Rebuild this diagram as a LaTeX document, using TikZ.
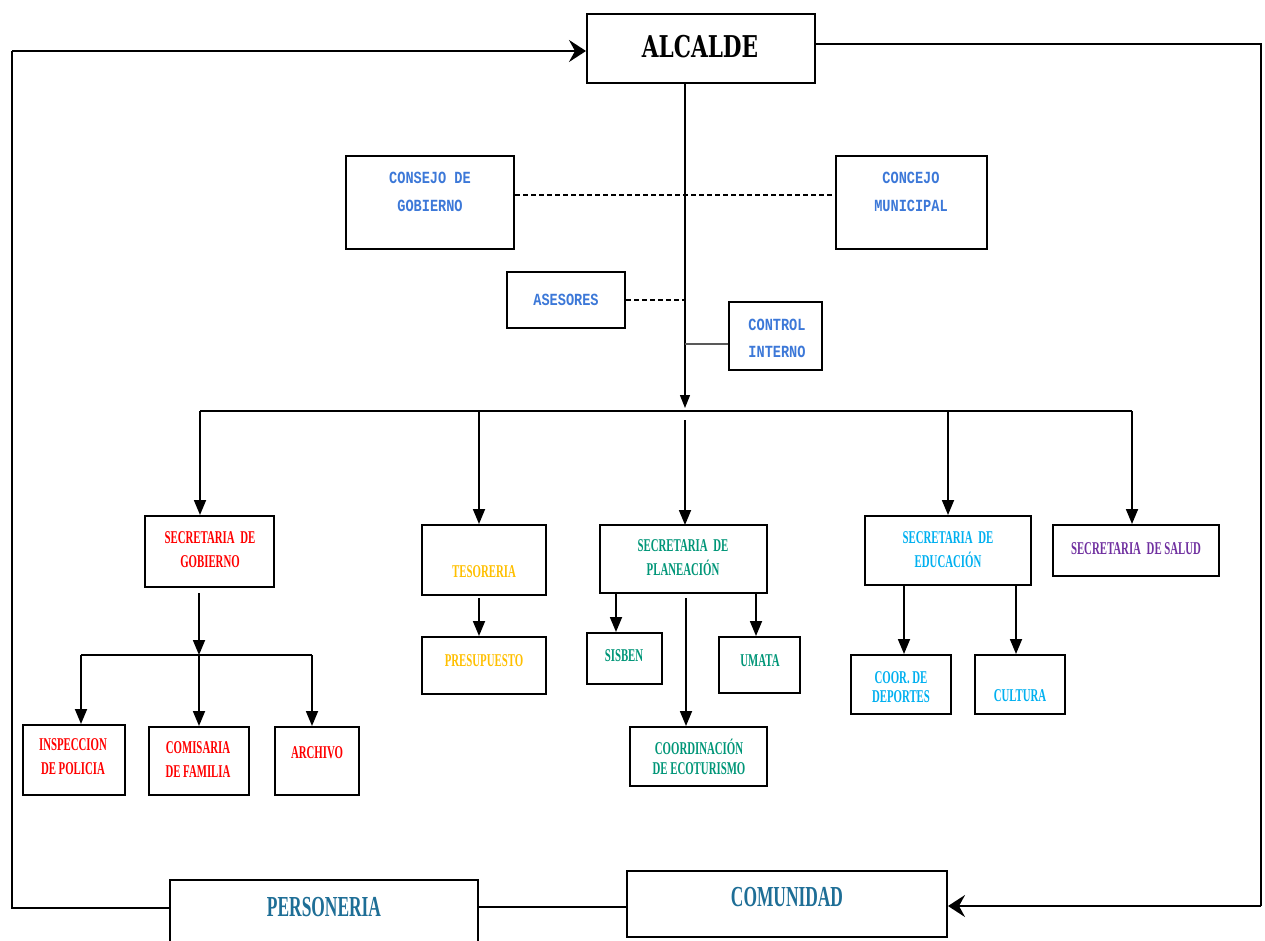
\documentclass[tikz,border=0pt]{standalone}
\usepackage{fontspec}
\setmainfont{Liberation Serif}
\newfontfamily\serc[FakeStretch=0.6]{Liberation Serif}
\newfontfamily\monc[FakeStretch=0.8]{Liberation Mono}
\newfontfamily\alcf[FakeStretch=0.72]{DejaVu Serif}
\usetikzlibrary{arrows.meta}
\definecolor{blueT}{RGB}{60,120,216}
\definecolor{goldT}{RGB}{255,192,0}
\definecolor{tealT}{RGB}{0,150,120}
\definecolor{lblueT}{RGB}{0,176,240}
\definecolor{purpT}{RGB}{112,48,160}
\definecolor{darkT}{RGB}{30,110,150}
\tikzset{
  box/.style={draw, line width=2pt, inner sep=0pt, fill=white},
  arr/.style={line width=1.8pt, -{Triangle[length=15pt,width=12pt]}},
  bigarr/.style={line width=2.2pt, -{Stealth[length=17pt,width=22pt,inset=6pt]}},
  lnk/.style={line width=1.8pt},
  thinl/.style={line width=1.2pt},
  dsh/.style={line width=1.6pt, dash pattern=on 5pt off 3pt},
  lbl/.style={align=center, inner sep=0pt},
  ctext/.style={lbl, font=\monc\bfseries\fontsize{17}{28}\selectfont, text=blueT},
  stext/.style={lbl, font=\serc\bfseries\fontsize{18}{24}\selectfont},
  btext/.style={lbl, font=\serc\bfseries\fontsize{29}{30}\selectfont, text=darkT},
}
\begin{document}
\begin{tikzpicture}[x=1pt,y=-1pt]
\useasboundingbox (0,0) rectangle (1265,940);
% boxes
\node[box, minimum width=228pt, minimum height=69pt] (alc) at (701,48.5) {};
\node[box, minimum width=168pt, minimum height=93pt] (cgob) at (430,202.5) {};
\node[box, minimum width=151pt, minimum height=93pt] (cmun) at (911.5,202.5) {};
\node[box, minimum width=118pt, minimum height=56pt] (ases) at (566,300) {};
\node[box, minimum width=93pt, minimum height=68pt] (cint) at (775.5,336) {};
\node[box, minimum width=129pt, minimum height=71pt] (sgob) at (209.5,551.5) {};
\node[box, minimum width=124pt, minimum height=70pt] (teso) at (484,560) {};
\node[box, minimum width=167pt, minimum height=68pt] (spla) at (683.5,559) {};
\node[box, minimum width=166pt, minimum height=69pt] (sedu) at (948,550.5) {};
\node[box, minimum width=166pt, minimum height=51pt] (ssal) at (1136,550.5) {};
\node[box, minimum width=102pt, minimum height=70pt] (insp) at (74,760) {};
\node[box, minimum width=100pt, minimum height=68pt] (comi) at (199,761) {};
\node[box, minimum width=84pt, minimum height=68pt] (arch) at (317,761) {};
\node[box, minimum width=124pt, minimum height=57pt] (pres) at (484,665.5) {};
\node[box, minimum width=75pt, minimum height=51pt] (sisb) at (624.5,658.5) {};
\node[box, minimum width=81pt, minimum height=56pt] (umat) at (759.5,665) {};
\node[box, minimum width=137pt, minimum height=59pt] (ecot) at (698.5,756.5) {};
\node[box, minimum width=100pt, minimum height=59pt] (depo) at (901,684.5) {};
\node[box, minimum width=90pt, minimum height=59pt] (cult) at (1020,684.5) {};
\node[box, minimum width=308pt, minimum height=68pt] (pers) at (324,914) {};
\node[box, minimum width=320pt, minimum height=66pt] (comu) at (787,904) {};
% texts
\node[lbl, font=\alcf\bfseries\fontsize{30}{32}\selectfont] (alc-t) at (700,47) {ALCALDE};
\node[ctext] (cgob-t) at (430,192) {CONSEJO DE\\GOBIERNO};
\node[ctext] (cmun-t) at (911,192) {CONCEJO\\MUNICIPAL};
\node[ctext] (ases-t) at (566,300) {ASESORES};
\node[ctext, font=\monc\bfseries\fontsize{17}{27}\selectfont] (cint-t) at (777,338) {CONTROL\\INTERNO};
\node[stext, text=red] (sgob-t) at (210,550) {SECRETARIA \,DE\\GOBIERNO};
\node[stext, text=goldT] (teso-t) at (484,572) {TESORERIA};
\node[stext, text=tealT] (spla-t) at (683,558) {SECRETARIA \,DE\\PLANEACIÓN};
\node[stext, text=lblueT] (sedu-t) at (948,550) {SECRETARIA \,DE\\EDUCACIÓN};
\node[stext, text=purpT] (ssal-t) at (1136,549) {SECRETARIA \,DE SALUD};
\node[stext, text=red] (insp-t) at (73,757) {INSPECCION\\DE POLICIA};
\node[stext, text=red] (comi-t) at (198,760) {COMISARIA\\DE FAMILIA};
\node[stext, text=red] (arch-t) at (317,753) {ARCHIVO};
\node[stext, text=goldT] (pres-t) at (484,661) {PRESUPUESTO};
\node[stext, text=tealT] (sisb-t) at (624,656) {SISBEN};
\node[stext, text=tealT] (umat-t) at (760,661) {UMATA};
\node[stext, text=tealT, font=\serc\bfseries\fontsize{18}{20}\selectfont] (ecot-t) at (699,757) {COORDINACIÓN\\DE ECOTURISMO};
\node[stext, text=lblueT, font=\serc\bfseries\fontsize{18}{19}\selectfont] (depo-t) at (901,687) {COOR. DE\\DEPORTES};
\node[stext, text=lblueT] (cult-t) at (1020,696) {CULTURA};
\node[btext] (pers-t) at (324,907) {PERSONERIA};
\node[btext] (comu-t) at (787,897) {COMUNIDAD};
% coordinates
\coordinate (bC) at (685,411);
\coordinate (bL) at (200,411);
\coordinate (bR) at (1132,411);
\coordinate (bT) at (479,411);
\coordinate (bE) at (948,411);
\coordinate (gC) at (199,655);
\coordinate (gL) at (81,655);
\coordinate (gR) at (312,655);
\coordinate (rTop) at (1261,44);
\coordinate (rBot) at (1261,906);
\coordinate (lBot) at (12,908);
\coordinate (lTop) at (12,51);
\coordinate (xT) at (479,598);
\coordinate (xS) at (616,0);
\coordinate (xU) at (756,0);
\coordinate (xE) at (686,598);
\coordinate (xD) at (904,0);
\coordinate (xK) at (1016,0);
% trunk and dashed links
\draw[thinl, -{Triangle[length=13pt,width=10pt]}] (bC |- alc.south) -- (685,408);
\draw[dsh] ([yshift=7.5pt]cgob.east) -- ([yshift=7.5pt]cmun.west);
\draw[dsh] (ases.east) -- (bC |- ases.east);
\draw[lnk, gray!70!black] ([yshift=-8pt]cint.west) -- (685,344);
% main bus
\draw[lnk] (bL) -- (bR);
\draw[arr] (bL) -- (bL |- sgob.north);
\draw[arr] (bT) -- (bT |- teso.north);
\draw[arr] (685,420) -- (685,525);
\draw[arr] (bE) -- (bE |- sedu.north);
\draw[arr] (bR) -- (bR |- ssal.north);
% gobierno subtree
\draw[arr] (199,593) -- (gC);
\draw[lnk] (gL) -- (gR);
\draw[arr] (gL) -- (gL |- insp.north);
\draw[arr] (gC) -- (gC |- comi.north);
\draw[arr] (gR) -- (gR |- arch.north);
% tesoreria
\draw[arr] (xT) -- (xT |- pres.north);
% planeacion
\draw[arr] (xS |- spla.south) -- (xS |- sisb.north);
\draw[arr] (xU |- spla.south) -- (xU |- umat.north);
\draw[arr] (xE) -- (xE |- ecot.north);
% educacion
\draw[arr] (xD |- sedu.south) -- (xD |- depo.north);
\draw[arr] (xK |- sedu.south) -- (xK |- cult.north);
% outer loops
\draw[lnk] (alc.east |- rTop) -- (rTop) -- (rBot);
\draw[bigarr] (rBot) -- (comu.east |- rBot);
\draw[lnk] (pers.west |- lBot) -- (lBot) -- (lTop);
\draw[bigarr] (lTop) -- (alc.west |- lTop);
\draw[lnk] (pers.east |- 0,907) -- (comu.west |- 0,907);
\end{tikzpicture}
\end{document}
